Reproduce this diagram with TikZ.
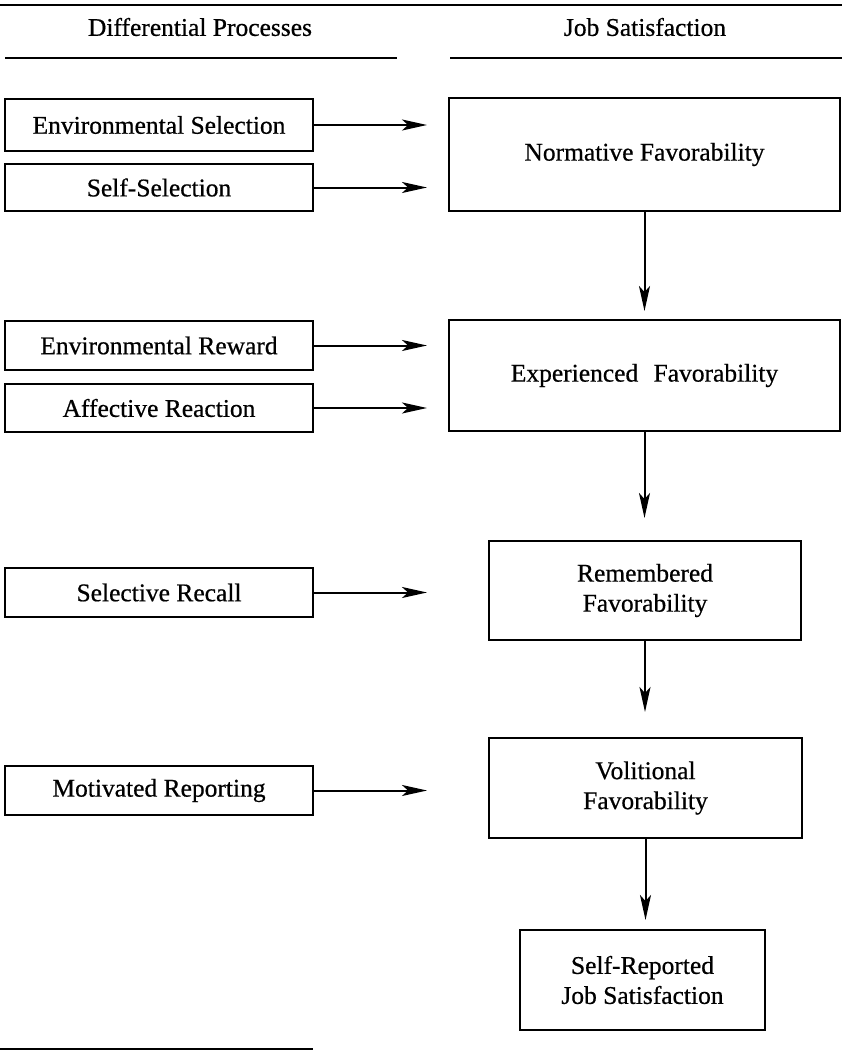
\documentclass[tikz,border=0pt]{standalone}
\usepackage{fontspec}
\setmainfont{Liberation Serif}[FakeBold=0.6]
\usetikzlibrary{arrows.meta}
\begin{document}
\begin{tikzpicture}[x=1pt,y=-1pt,
  txt/.style={font=\fontsize{25.5}{30}\selectfont},
  box/.style={draw, line width=2pt, inner sep=0pt, align=center, txt},
  lbox/.style={box, minimum width=308pt},
  arr/.style={line width=2pt, -{Stealth[length=25pt, width=11pt, inset=6pt]}},
  rule/.style={line width=2.6pt}]
\useasboundingbox (0,0) rectangle (842,1052);
% header rules
\draw[rule] (0,5) -- (842,5);
\node[txt] (hl) at (200,27) {Differential Processes};
\node[txt] (hr) at (645,27) {Job Satisfaction};
\draw[rule] (5,58) -- (397,58);
\draw[rule] (450,58) -- (842,58);
\draw[rule, line width=2pt] (0,1049) -- (313,1049);
% left boxes
\node[lbox, minimum height=52pt] (ES) at (159,125) {Environmental Selection};
\node[lbox, minimum height=47pt] (SS) at (159,187.5) {Self-Selection};
\node[lbox, minimum height=49pt] (ER) at (159,345.5) {Environmental Reward};
\node[lbox, minimum height=48pt] (AR) at (159,408) {Affective Reaction};
\node[lbox, minimum height=49pt] (SR) at (159,592.5) {Selective Recall};
\node[lbox, minimum height=49pt] (MR) at (159,790.5) {Motivated Reporting};
% right boxes
\node[box, minimum width=391pt, minimum height=113pt] (NF) at (644.5,154.5) {Normative Favorability};
\node[box, minimum width=391pt, minimum height=111pt] (EF) at (644.5,375.5) {Experienced\hspace{0.35em} Favorability};
\node[box, minimum width=312pt, minimum height=99pt] (RF) at (645,590.5) {Remembered\\Favorability};
\node[box, minimum width=313pt, minimum height=100pt] (VF) at (645.5,788) {Volitional\\Favorability};
\node[box, minimum width=245pt, minimum height=100pt] (SJ) at (642.5,980) {Self-Reported\\Job Satisfaction};
% horizontal arrows
\draw[arr, shorten >=21pt] (ES.east) -- (ES.east -| NF.west);
\draw[arr, shorten >=21pt] (SS.east) -- (SS.east -| NF.west);
\draw[arr, shorten >=21pt] (ER.east) -- (ER.east -| EF.west);
\draw[arr, shorten >=21pt] (AR.east) -- (AR.east -| EF.west);
\draw[arr, shorten >=61pt] (SR.east) -- (SR.east -| RF.west);
\draw[arr, shorten >=61pt] (MR.east) -- (MR.east -| VF.west);
% vertical arrows
\draw[arr, shorten >=8pt] (NF.south) -- (NF.south |- EF.north);
\draw[arr, shorten >=22pt] (EF.south) -- (EF.south |- RF.north);
\draw[arr, shorten >=25pt] (RF.south) -- (RF.south |- VF.north);
\draw[arr, shorten >=9pt] (VF.south) -- (VF.south |- SJ.north);
\end{tikzpicture}
\end{document}
